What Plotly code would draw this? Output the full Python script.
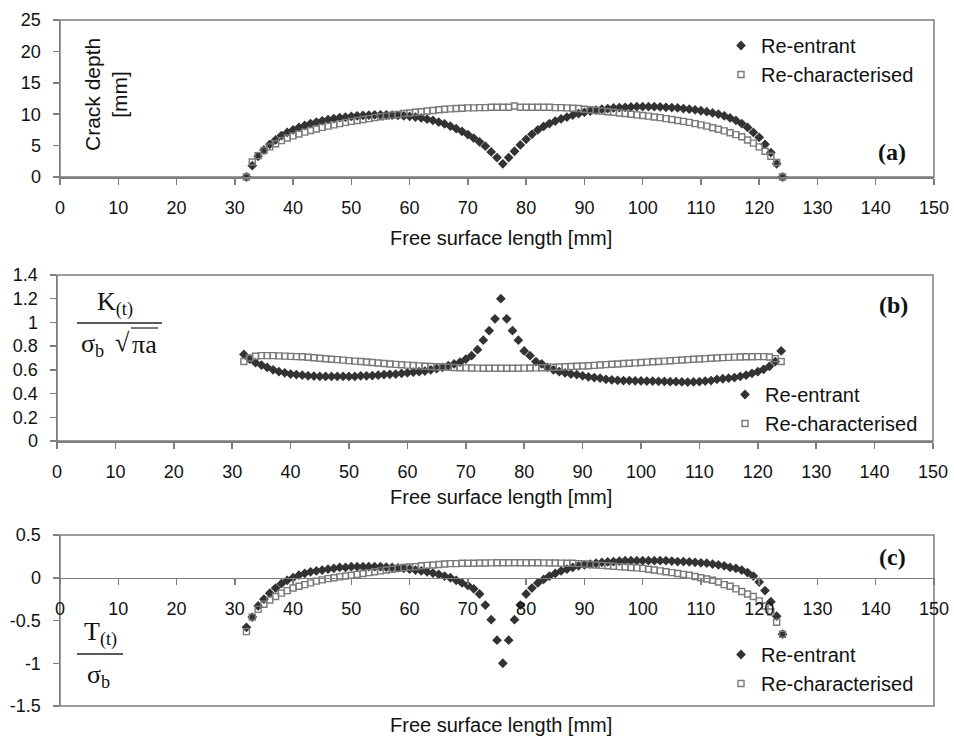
import plotly.graph_objects as go

# ---------------- data ----------------
x_mm = [32, 33, 34, 35, 36, 37, 38, 39, 40, 41,
        42, 43, 44, 45, 46, 47, 48, 49, 50, 51,
        52, 53, 54, 55, 56, 57, 58, 59, 60, 61,
        62, 63, 64, 65, 66, 67, 68, 69, 70, 71,
        72, 73, 74, 75, 76, 77, 78, 79, 80, 81,
        82, 83, 84, 85, 86, 87, 88, 89, 90, 91,
        92, 93, 94, 95, 96, 97, 98, 99, 100, 101,
        102, 103, 104, 105, 106, 107, 108, 109, 110, 111,
        112, 113, 114, 115, 116, 117, 118, 119, 120, 121,
        122, 123, 124]

depth_reentrant = [0, 1.8, 3.3, 4.3, 5.2, 5.9, 6.6, 7.1, 7.5, 7.9,
                   8.2, 8.5, 8.75, 8.95, 9.15, 9.3, 9.45, 9.55, 9.65, 9.75,
                   9.8, 9.85, 9.9, 9.9, 9.9, 9.85, 9.8, 9.75, 9.65, 9.55,
                   9.4, 9.2, 9.0, 8.75, 8.45, 8.1, 7.7, 7.25, 6.75, 6.2,
                   5.6, 4.9, 4.0, 3.1, 2.1, 3.1, 4.1, 5.1, 6.0, 6.8,
                   7.5, 8.05, 8.5, 8.9, 9.25, 9.55, 9.85, 10.1, 10.3, 10.5,
                   10.65, 10.8, 10.9, 11.0, 11.05, 11.1, 11.15, 11.2, 11.2, 11.2,
                   11.2, 11.15, 11.1, 11.05, 11.0, 10.9, 10.8, 10.7, 10.55, 10.4,
                   10.2, 10.0, 9.75, 9.4, 9.0, 8.5, 7.9, 7.1, 6.3, 5.2,
                   3.9, 2.1, 0]
depth_rechar = [0, 2.4, 3.4, 4.2, 4.8, 5.3, 5.8, 6.2, 6.55, 6.85,
                7.15, 7.4, 7.65, 7.9, 8.1, 8.3, 8.5, 8.7, 8.85, 9.0,
                9.15, 9.3, 9.45, 9.6, 9.7, 9.85, 9.95, 10.1, 10.2, 10.3,
                10.4, 10.5, 10.6, 10.7, 10.8, 10.85, 10.9, 10.95, 11.0, 11.0,
                11.05, 11.05, 11.1, 11.1, 11.1, 11.1, 11.3, 11.1, 11.1, 11.1,
                11.1, 11.1, 11.1, 11.05, 11.05, 11.0, 10.95, 10.9, 10.8, 10.7,
                10.6, 10.5, 10.4, 10.3, 10.2, 10.1, 10.0, 9.9, 9.8, 9.7,
                9.55, 9.45, 9.3, 9.15, 9.0, 8.85, 8.7, 8.5, 8.3, 8.1,
                7.85, 7.6, 7.35, 7.05, 6.75, 6.4, 5.9, 5.4, 4.8, 4.1,
                3.3, 2.3, 0]

k_reentrant = [0.73, 0.69, 0.66, 0.64, 0.62, 0.60, 0.585, 0.575, 0.565, 0.56,
               0.555, 0.55, 0.548, 0.545, 0.545, 0.545, 0.545, 0.545, 0.545, 0.545,
               0.55, 0.55, 0.552, 0.555, 0.56, 0.562, 0.565, 0.57, 0.575, 0.58,
               0.585, 0.59, 0.60, 0.61, 0.62, 0.635, 0.65, 0.665, 0.69, 0.72,
               0.77, 0.85, 0.93, 1.03, 1.20, 1.03, 0.93, 0.85, 0.76, 0.72,
               0.67, 0.65, 0.62, 0.60, 0.585, 0.575, 0.565, 0.56, 0.55, 0.54,
               0.535, 0.53, 0.52, 0.515, 0.512, 0.51, 0.51, 0.508, 0.507, 0.505,
               0.505, 0.503, 0.502, 0.50, 0.50, 0.498, 0.497, 0.498, 0.50, 0.505,
               0.51, 0.52, 0.525, 0.53, 0.535, 0.545, 0.555, 0.57, 0.585, 0.605,
               0.63, 0.67, 0.76]
k_rechar = [0.67, 0.70, 0.715, 0.72, 0.72, 0.72, 0.718, 0.716, 0.714, 0.712,
            0.71, 0.706, 0.702, 0.698, 0.694, 0.69, 0.686, 0.682, 0.678, 0.674,
            0.67, 0.666, 0.662, 0.658, 0.654, 0.65, 0.646, 0.643, 0.64, 0.637,
            0.634, 0.631, 0.628, 0.626, 0.624, 0.622, 0.62, 0.618, 0.617, 0.616,
            0.615, 0.614, 0.614, 0.613, 0.613, 0.613, 0.613, 0.614, 0.615, 0.616,
            0.617, 0.618, 0.62, 0.622, 0.624, 0.626, 0.628, 0.63, 0.632, 0.635,
            0.638, 0.641, 0.644, 0.647, 0.65, 0.653, 0.656, 0.659, 0.662, 0.665,
            0.668, 0.671, 0.674, 0.677, 0.68, 0.683, 0.686, 0.689, 0.692, 0.695,
            0.698, 0.70, 0.703, 0.705, 0.707, 0.709, 0.71, 0.711, 0.712, 0.712,
            0.708, 0.695, 0.67]

t_reentrant = [-0.58, -0.46, -0.33, -0.25, -0.18, -0.12, -0.07, -0.03, 0.0, 0.03,
               0.05, 0.07, 0.08, 0.09, 0.10, 0.11, 0.12, 0.12, 0.13, 0.13,
               0.13, 0.13, 0.13, 0.13, 0.125, 0.12, 0.115, 0.11, 0.10, 0.09,
               0.08, 0.07, 0.055, 0.04, 0.02, 0.0, -0.03, -0.06, -0.09, -0.13,
               -0.19, -0.32, -0.49, -0.73, -1.0, -0.73, -0.49, -0.32, -0.19, -0.12,
               -0.06, -0.02, 0.02, 0.05, 0.08, 0.10, 0.12, 0.14, 0.15, 0.16,
               0.17, 0.18, 0.185, 0.19, 0.195, 0.2, 0.2, 0.2, 0.2, 0.2,
               0.2, 0.2, 0.2, 0.195, 0.19, 0.19, 0.185, 0.18, 0.175, 0.17,
               0.16, 0.15, 0.14, 0.12, 0.11, 0.09, 0.06, 0.02, -0.05, -0.15,
               -0.28, -0.45, -0.66]
t_rechar = [-0.63, -0.46, -0.37, -0.31, -0.26, -0.22, -0.18, -0.15, -0.12, -0.10,
            -0.08, -0.06, -0.04, -0.025, -0.01, 0.0, 0.01, 0.02, 0.03, 0.04,
            0.05, 0.06, 0.07, 0.08, 0.09, 0.10, 0.11, 0.12, 0.125, 0.13,
            0.14, 0.145, 0.15, 0.155, 0.16, 0.165, 0.165, 0.17, 0.17, 0.17,
            0.172, 0.173, 0.174, 0.175, 0.175, 0.175, 0.175, 0.175, 0.175, 0.175,
            0.175, 0.174, 0.173, 0.172, 0.171, 0.17, 0.17, 0.165, 0.16, 0.155,
            0.15, 0.145, 0.14, 0.135, 0.13, 0.125, 0.12, 0.115, 0.11, 0.10,
            0.09, 0.08, 0.07, 0.06, 0.05, 0.04, 0.03, 0.015, 0.0, -0.015,
            -0.03, -0.05, -0.08, -0.10, -0.13, -0.16, -0.19, -0.22, -0.27, -0.33,
            -0.40, -0.52, -0.66]

x_ticks = [0, 10, 20, 30, 40, 50, 60, 70, 80, 90, 100, 110, 120, 130, 140, 150]
ya_ticks = [0, 5, 10, 15, 20, 25]
yb_ticks = [0, 0.2, 0.4, 0.6, 0.8, 1, 1.2, 1.4]
yb_text = ["0", "0.2", "0.4", "0.6", "0.8", "1", "1.2", "1.4"]
yc_ticks = [-1.5, -1, -0.5, 0, 0.5]
yc_text = ["-1.5", "-1", "-0.5", "0", "0.5"]

series_names = ["Re-entrant", "Re-characterised"]
x_title = "Free surface length [mm]"

# ---------------- styling ----------------
W, H = 954, 738
AX = "#7d7d7d"
TXT = "#111111"
SANS = "Liberation Sans, Arial, sans-serif"
SERIF = "Liberation Serif, Times New Roman, serif"
DIAMOND = dict(symbol="diamond", size=7.5, color="#333333", line=dict(width=0))
SQUARE = dict(symbol="square-open", size=6, color="#7a7a7a", line=dict(width=1.4, color="#7a7a7a"))


def px(v):
    return v / W


def py(v):
    return 1 - v / H


fig = go.Figure()

panels = [
    ("x", "y", depth_reentrant, depth_rechar, "legend"),
    ("x2", "y2", k_reentrant, k_rechar, "legend2"),
    ("x3", "y3", t_reentrant, t_rechar, "legend3"),
]
for xa, ya, yr, yc, lg in panels:
    fig.add_trace(go.Scatter(x=x_mm, y=yr, mode="markers", name=series_names[0],
                             marker=DIAMOND, xaxis=xa, yaxis=ya, legend=lg,
                             cliponaxis=False, hoverinfo="skip"))
    fig.add_trace(go.Scatter(x=x_mm, y=yc, mode="markers", name=series_names[1],
                             marker=SQUARE, xaxis=xa, yaxis=ya, legend=lg,
                             cliponaxis=False, hoverinfo="skip"))

tickfont = dict(family=SANS, size=18, color=TXT)
xcommon = dict(range=[0, 150], tickvals=x_ticks, ticks="outside", ticklen=6, tickwidth=1.5,
               tickcolor=AX, showline=True, linecolor=AX, linewidth=1.5, showgrid=False,
               zeroline=False, tickfont=tickfont, ticklabelstandoff=8, fixedrange=True,
               automargin=False, ticklabeloverflow="allow")
ycommon = dict(ticks="outside", ticklen=6, tickwidth=1.5, tickcolor=AX, showline=True,
               linecolor=AX, linewidth=1.5, showgrid=False, zeroline=False, tickfont=tickfont,
               ticklabelstandoff=8, fixedrange=True, automargin=False, ticklabeloverflow="allow")

dom_a = [py(177), py(20)]
dom_b = [py(441), py(275)]
dom_c = [py(706), py(535)]

fig.update_layout(
    width=W, height=H, autosize=False,
    margin=dict(l=0, r=0, t=0, b=0, pad=0, autoexpand=False),
    paper_bgcolor="white", plot_bgcolor="white",
    font=dict(family=SANS, color=TXT),
    xaxis=dict(domain=[px(60), px(934)], anchor="y", **xcommon),
    yaxis=dict(domain=dom_a, anchor="x", range=[0, 25], tickvals=ya_ticks, **ycommon),
    xaxis2=dict(domain=[px(57), px(933)], anchor="y2", **xcommon),
    yaxis2=dict(domain=dom_b, anchor="x2", range=[0, 1.4], tickvals=yb_ticks, ticktext=yb_text, **ycommon),
    xaxis3=dict(domain=[px(60), px(934)], anchor="free",
                position=dom_c[0] + 0.75 * (dom_c[1] - dom_c[0]), **xcommon),
    yaxis3=dict(domain=dom_c, anchor="x3", range=[-1.5, 0.5], tickvals=yc_ticks, ticktext=yc_text, **ycommon),
)

legfont = dict(family=SANS, size=20, color=TXT)
leg_common = dict(font=legfont, bgcolor="rgba(0,0,0,0)", borderwidth=0, itemsizing="trace",
                  xanchor="left", yanchor="top", tracegroupgap=0)
fig.update_layout(
    legend=dict(x=px(721), y=py(26), **leg_common),
    legend2=dict(x=px(725), y=py(375), **leg_common),
    legend3=dict(x=px(721), y=py(635), **leg_common),
)

shapes = []
for xr, yr in [("x", "y"), ("x2", "y2"), ("x3", "y3")]:
    shapes.append(dict(type="rect", xref=f"{xr} domain", yref=f"{yr} domain", x0=0, x1=1, y0=0, y1=1,
                       line=dict(color=AX, width=1.5), layer="below"))
# fraction bars of the y-axis formula labels
shapes.append(dict(type="line", xref="paper", yref="paper", x0=px(77), x1=px(162), y0=py(323), y1=py(323),
                   line=dict(color="#222222", width=1.5)))
shapes.append(dict(type="line", xref="paper", yref="paper", x0=px(131), x1=px(158), y0=py(328), y1=py(328),
                   line=dict(color="#222222", width=1.2)))
shapes.append(dict(type="line", xref="paper", yref="paper", x0=px(77), x1=px(123), y0=py(654), y1=py(654),
                   line=dict(color="#222222", width=1.5)))
fig.update_layout(shapes=shapes)

ann = []
for yc in [238, 497, 725]:
    ann.append(dict(text=x_title, x=px(501), y=py(yc), xref="paper", yref="paper", showarrow=False,
                    xanchor="center", yanchor="middle", font=dict(family=SANS, size=20, color=TXT)))
for lab, xc, yc in [("(a)", 892, 152), ("(b)", 893, 305), ("(c)", 892, 557)]:
    ann.append(dict(text=f"<b>{lab}</b>", x=px(xc), y=py(yc), xref="paper", yref="paper", showarrow=False,
                    xanchor="center", yanchor="middle", font=dict(family=SERIF, size=24, color=TXT)))
ann.append(dict(text="Crack depth<br>[mm]", x=px(106), y=py(95), xref="paper", yref="paper", showarrow=False,
                textangle=-90, xanchor="center", yanchor="middle", font=dict(family=SANS, size=21, color=TXT)))
serif_big = dict(family=SERIF, size=26, color=TXT)
ann.append(dict(text="K<sub>(t)</sub>", x=px(115), y=py(303), xref="paper", yref="paper", showarrow=False,
                xanchor="center", yanchor="middle", font=serif_big))
ann.append(dict(text="σ<sub>b</sub>", x=px(92), y=py(345), xref="paper", yref="paper", showarrow=False,
                xanchor="center", yanchor="middle", font=serif_big))
ann.append(dict(text="√", x=px(122), y=py(343), xref="paper", yref="paper", showarrow=False,
                xanchor="center", yanchor="middle", font=serif_big))
ann.append(dict(text="πa", x=px(144), y=py(344), xref="paper", yref="paper", showarrow=False,
                xanchor="center", yanchor="middle", font=serif_big))
ann.append(dict(text="T<sub>(t)</sub>", x=px(100), y=py(633), xref="paper", yref="paper", showarrow=False,
                xanchor="center", yanchor="middle", font=serif_big))
ann.append(dict(text="σ<sub>b</sub>", x=px(98), y=py(676), xref="paper", yref="paper", showarrow=False,
                xanchor="center", yanchor="middle", font=serif_big))
fig.update_layout(annotations=ann)

fig.write_html("out.html",
               post_script="document.body.style.margin='0px';document.body.style.overflow='hidden';",
               config={"displayModeBar": False, "staticPlot": True})
